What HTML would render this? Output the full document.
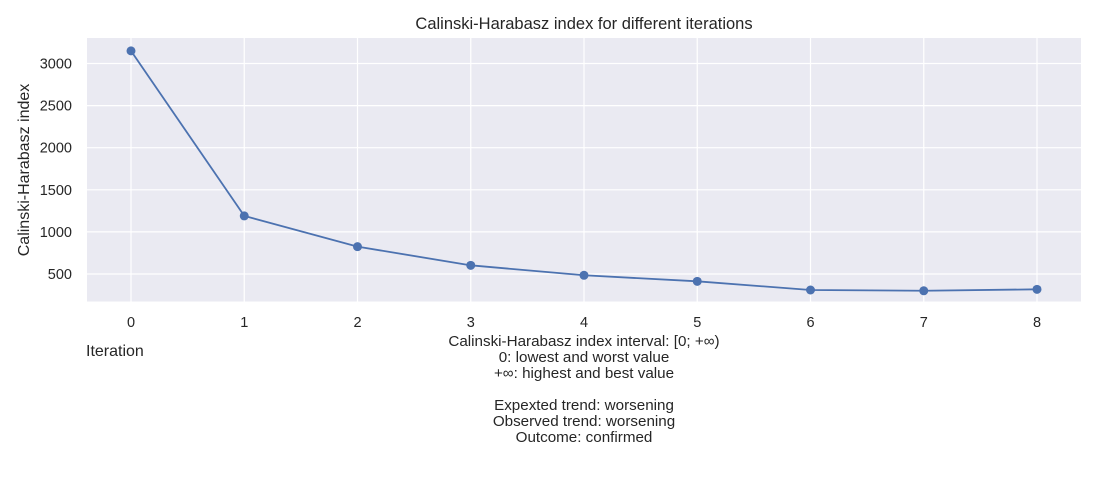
<!DOCTYPE html>
<html><head><meta charset="utf-8"><style>
body{margin:0;background:#fff;font-family:"Liberation Sans","DejaVu Sans",sans-serif;overflow:hidden;}
svg{display:block;}
svg text{font-family:"Liberation Sans","DejaVu Sans",sans-serif;fill:#262626;}
</style></head><body>
<svg id="chart" width="1100" height="500" xmlns="http://www.w3.org/2000/svg">
<rect x="87" y="38" width="994" height="263.5" fill="#eaeaf2"/>
<g id="grid"></g><g id="series"></g><g id="ticks"></g>
<text x="584" y="29" font-size="16.5" text-anchor="middle">Calinski-Harabasz index for different iterations</text>
<text transform="translate(29,170) rotate(-90)" font-size="16" text-anchor="middle">Calinski-Harabasz index</text>
<text x="86" y="356" font-size="16">Iteration</text>
<g font-size="15.2" text-anchor="middle">
<text x="584" y="346">Calinski-Harabasz index interval: [0; +∞)</text>
<text x="584" y="362">0: lowest and worst value</text>
<text x="584" y="378">+∞: highest and best value</text>
<text x="584" y="410">Expexted trend: worsening</text>
<text x="584" y="426">Observed trend: worsening</text>
<text x="584" y="442">Outcome: confirmed</text>
</g>
</svg>
<script>
const iterations=[0,1,2,3,4,5,6,7,8];
const chValues=[3150,1190,825,603,485,413,310,301,318];
const yTicks=[500,1000,1500,2000,2500,3000];
const NS="http://www.w3.org/2000/svg";
const x=v=>131+v*113.25;
const y=v=>274-(v-500)*0.0842;
function mk(t,a,p){const e=document.createElementNS(NS,t);for(const k in a)e.setAttribute(k,a[k]);p.appendChild(e);return e;}
const g=document.getElementById('grid'),s=document.getElementById('series'),tk=document.getElementById('ticks');
iterations.forEach(i=>{
 const l=mk('line',{x1:x(i),x2:x(i),y1:38,y2:301.5,stroke:'#fff','stroke-width':1.2},g);
 
 
 const t=mk('text',{x:x(i),y:327,'font-size':14.5,'text-anchor':'middle'},tk);t.textContent=i;
 
 
});
yTicks.forEach(v=>{
 const l=mk('line',{x1:87,x2:1081,y1:y(v),y2:y(v),stroke:'#fff','stroke-width':1.2},g);
 
 
 const t=mk('text',{x:72,y:y(v)+5,'font-size':14.5,'text-anchor':'end'},tk);t.textContent=v;
 
 
});
const p=mk('polyline',{points:iterations.map((i,k)=>x(i)+','+y(chValues[k])).join(' '),fill:'none',stroke:'#4c72b0','stroke-width':1.8},s);


iterations.forEach((i,k)=>{
 const c=mk('circle',{cx:x(i),cy:y(chValues[k]),r:4.5,fill:'#4c72b0'},s);
 
 
});
</script>
</body></html>
